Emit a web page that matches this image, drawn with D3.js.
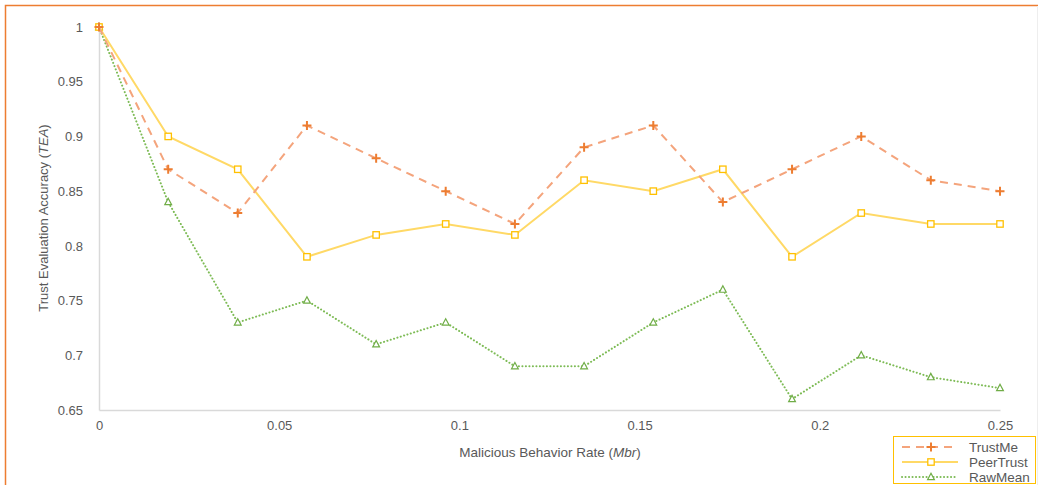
<!DOCTYPE html>
<html>
<head>
<meta charset="utf-8">
<script src="https://cdn.jsdelivr.net/npm/d3@7"></script>
<style>
  html, body { margin: 0; padding: 0; background: #fff; }
  svg { display: block; }
  text { font-family: "Liberation Sans", Arial, sans-serif; fill: #595959; }
</style>
</head>
<body>
<svg id="chart" width="1038" height="485"></svg>
<script>
// Malicious behavior rate (x) and trust evaluation accuracy for each method
const rates = [0, 0.0192, 0.0385, 0.0577, 0.0769, 0.0962, 0.1154, 0.1346, 0.1538, 0.1731, 0.1923, 0.2115, 0.2308, 0.25];
const trustMe   = [1, 0.87, 0.83, 0.91, 0.88, 0.85, 0.82, 0.89, 0.91, 0.84, 0.87, 0.90, 0.86, 0.85];
const peerTrust = [1, 0.90, 0.87, 0.79, 0.81, 0.82, 0.81, 0.86, 0.85, 0.87, 0.79, 0.83, 0.82, 0.82];
const rawMean   = [1, 0.84, 0.73, 0.75, 0.71, 0.73, 0.69, 0.69, 0.73, 0.76, 0.66, 0.70, 0.68, 0.67];
const xTicks = [0, 0.05, 0.1, 0.15, 0.2, 0.25];
const yTicks = [0.65, 0.7, 0.75, 0.8, 0.85, 0.9, 0.95, 1];
const seriesNames = ["TrustMe", "PeerTrust", "RawMean"];

const svg = d3.select("#chart");

// outer frame
svg.append("rect")
  .attr("x", 5.5).attr("y", 5.5).attr("width", 1100).attr("height", 600)
  .attr("fill", "none").attr("stroke", "#ED7D31").attr("stroke-width", 1.5);
svg.append("line")
  .attr("x1", 1037.5).attr("x2", 1037.5).attr("y1", 6).attr("y2", 485)
  .attr("stroke", "#eeeeee");

const x = d3.scaleLinear().domain([0, 0.25]).range([99, 1000]);
const y = d3.scaleLinear().domain([0.65, 1]).range([410, 27]);

// axes
const gx = svg.append("g").attr("transform", "translate(0,410)")
  .call(d3.axisBottom(x).tickValues(xTicks).tickSize(0).tickPadding(11)
    .tickFormat(d => d3.format("")(+d.toFixed(2))));
gx.select(".domain").attr("stroke", "#d9d9d9").attr("stroke-width", 1.5);
gx.selectAll("text").style("font-size", "13px").attr("fill", "#595959");

const gy = svg.append("g").attr("transform", "translate(99,0)")
  .call(d3.axisLeft(y).tickValues(yTicks).tickSize(0).tickPadding(16)
    .tickFormat(d => d3.format("")(+d.toFixed(2))));
gy.select(".domain").attr("stroke", "#d9d9d9").attr("stroke-width", 1.5);
gy.selectAll("text").style("font-size", "13px").attr("fill", "#595959");

// axis titles
const xt = svg.append("text").attr("x", 550).attr("y", 457).attr("text-anchor", "middle")
  .style("font-size", "13.5px");
xt.append("tspan").text("Malicious Behavior Rate (");
xt.append("tspan").style("font-style", "italic").text("Mbr");
xt.append("tspan").text(")");

const yt = svg.append("text").attr("transform", "translate(48,218) rotate(-90)")
  .attr("text-anchor", "middle").style("font-size", "13px");
yt.append("tspan").text("Trust Evaluation Accuracy (");
yt.append("tspan").style("font-style", "italic").text("TEA");
yt.append("tspan").text(")");

const series = [
  { name: seriesNames[0], values: trustMe, line: "#F4A47C", mark: "#ED7D31", dash: "8,6", type: "plus" },
  { name: seriesNames[1], values: peerTrust, line: "#FFD966", mark: "#FFC000", dash: null, type: "square" },
  { name: seriesNames[2], values: rawMean, line: "#7DBB55", mark: "#70AD47", dash: "0.1,3.4", type: "triangle" }
];

const lineGen = d3.line().x(d => x(d[0])).y(d => y(d[1]));

function drawMarker(g, type, color) {
  if (type === "plus") {
    g.append("path").attr("d", "M-4.5,0H4.5M0,-4.5V4.5")
      .attr("stroke", color).attr("stroke-width", 2).attr("fill", "none");
  } else if (type === "square") {
    g.append("rect").attr("x", -3.2).attr("y", -3.2).attr("width", 6.4).attr("height", 6.4)
      .attr("fill", "#fff").attr("stroke", color).attr("stroke-width", 1.3);
  } else {
    g.append("path").attr("d", "M0,-3.8L3.4,2.6L-3.4,2.6Z")
      .attr("fill", "#fff").attr("stroke", color).attr("stroke-width", 1.2);
  }
}

// draw order: RawMean, PeerTrust, TrustMe on top
[series[2], series[1], series[0]].forEach(s => {
  const pts = rates.map((r, i) => [r, s.values[i]]);
  svg.append("path").datum(pts).attr("d", lineGen)
    .attr("fill", "none").attr("stroke", s.line).attr("stroke-width", 2)
    .attr("stroke-dasharray", s.dash)
    .attr("stroke-linecap", s.type === "triangle" ? "round" : "butt");
  pts.forEach(p => {
    const g = svg.append("g").attr("transform", `translate(${x(p[0])},${y(p[1])})`);
    drawMarker(g, s.type, s.mark);
  });
});

// legend
const lg = svg.append("g");
lg.append("rect").attr("x", 893.5).attr("y", 436.5).attr("width", 142).attr("height", 47)
  .attr("fill", "#fff").attr("stroke", "#FFC000").attr("stroke-width", 1);
series.forEach((s, i) => {
  const yy = 447 + i * 15;
  lg.append("line").attr("x1", 902).attr("x2", 958).attr("y1", yy).attr("y2", yy)
    .attr("stroke", s.line).attr("stroke-width", 2).attr("stroke-dasharray", s.dash)
    .attr("stroke-linecap", s.type === "triangle" ? "round" : "butt");
  const g = lg.append("g").attr("transform", `translate(931,${yy})`);
  drawMarker(g, s.type, s.mark);
  lg.append("text").attr("x", 969).attr("y", yy + 4.5).style("font-size", "13.5px").text(s.name);
});
</script>
</body>
</html>
